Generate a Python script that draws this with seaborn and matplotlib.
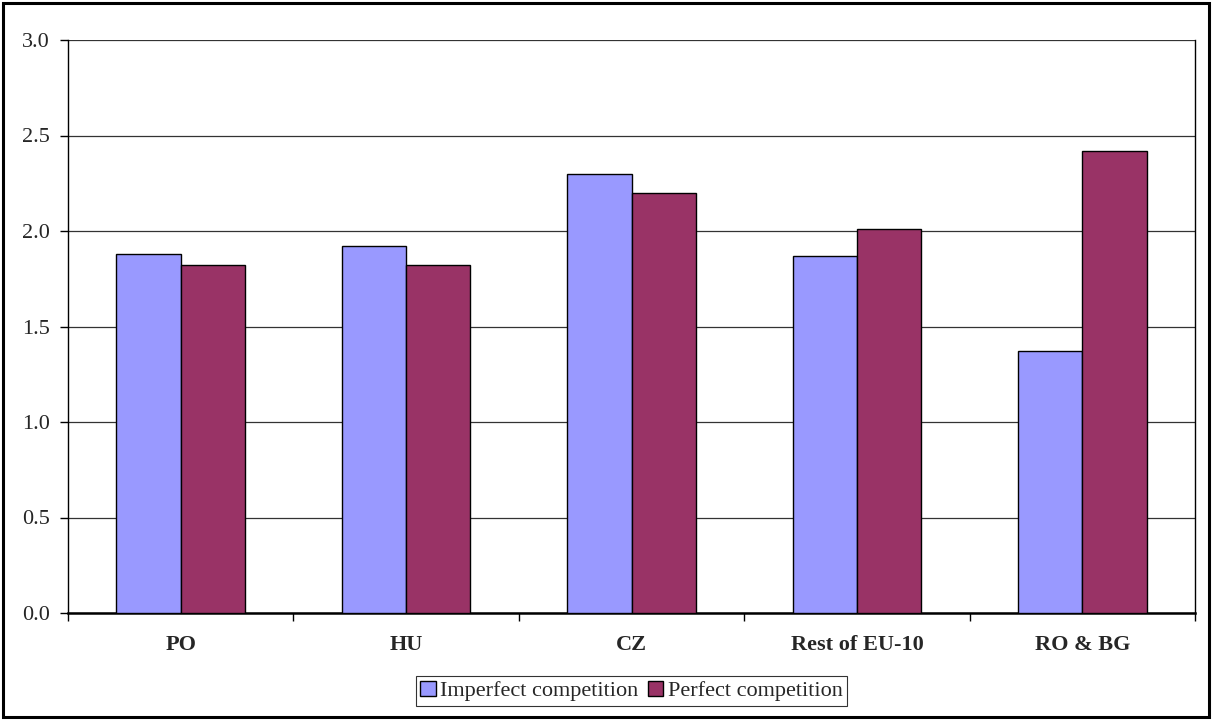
import seaborn as sns
import pandas as pd
import matplotlib.pyplot as plt
from matplotlib.patches import Rectangle

regions = ['PO', 'HU', 'CZ', 'Rest of EU-10', 'RO & BG']
imperfect = [1.88, 1.92, 2.30, 1.87, 1.37]
perfect = [1.82, 1.82, 2.20, 2.01, 2.42]
series = ['Imperfect competition', 'Perfect competition']

df = pd.DataFrame({
    'region': regions * 2,
    'value': imperfect + perfect,
    'series': [series[0]] * 5 + [series[1]] * 5,
})

sns.set_style('white')
plt.rcParams['font.family'] = ['Liberation Serif', 'DejaVu Serif']

fig = plt.figure(figsize=(12.13, 7.2), dpi=100)
ax = fig.add_axes([68 / 1213, 1 - 613 / 720, (1195 - 68) / 1213, (613 - 40) / 720])

sns.barplot(data=df, x='region', y='value', hue='series', order=regions,
            palette=['#9999FF', '#993366'], width=0.57, gap=0,
            edgecolor='black', linewidth=1, saturation=1, ax=ax, zorder=3)

ax.set_ylim(0, 3.0)
ax.set_xlim(-0.5, 4.5)
ax.set_yticks([0, 0.5, 1.0, 1.5, 2.0, 2.5, 3.0])
ax.set_yticklabels([f'{v:.1f}' for v in ax.get_yticks()], fontsize=16)
ax.yaxis.grid(True, color='#333333', linewidth=0.9, zorder=0)
ax.set_axisbelow(True)

ax.set_xticks(range(5))
ax.set_xticklabels(regions, fontsize=16, fontweight='bold')
ax.set_xticks([-0.5, 0.5, 1.5, 2.5, 3.5, 4.5], minor=True)
ax.tick_params(axis='x', which='major', length=0, pad=16)
ax.tick_params(axis='x', which='minor', length=6, width=1, color='black', direction='out', bottom=True)
ax.tick_params(axis='y', length=6, width=1, color='black', direction='out', left=True, pad=7)
ax.set_xlabel('')
ax.set_ylabel('')

for s in ['left', 'right', 'top']:
    ax.spines[s].set_color('black')
    ax.spines[s].set_linewidth(1)
ax.spines['top'].set_visible(False)
ax.spines['bottom'].set_color('black')
ax.spines['bottom'].set_linewidth(1.8)

leg = ax.legend(loc='upper center', bbox_to_anchor=(0.5, -0.091), ncol=2, frameon=True,
                fontsize=16, handlelength=0.7, handleheight=0.7, handletextpad=0.2,
                columnspacing=0.4, borderpad=0.2, fancybox=False, edgecolor='black')
leg.get_frame().set_linewidth(0.8)

# outer chart frame
fig.patches.append(Rectangle((3 / 1213, 3 / 720), 1206 / 1213, 714 / 720,
                             transform=fig.transFigure, fill=False,
                             edgecolor='black', linewidth=2.2))

fig.savefig('out.png', dpi=100)
